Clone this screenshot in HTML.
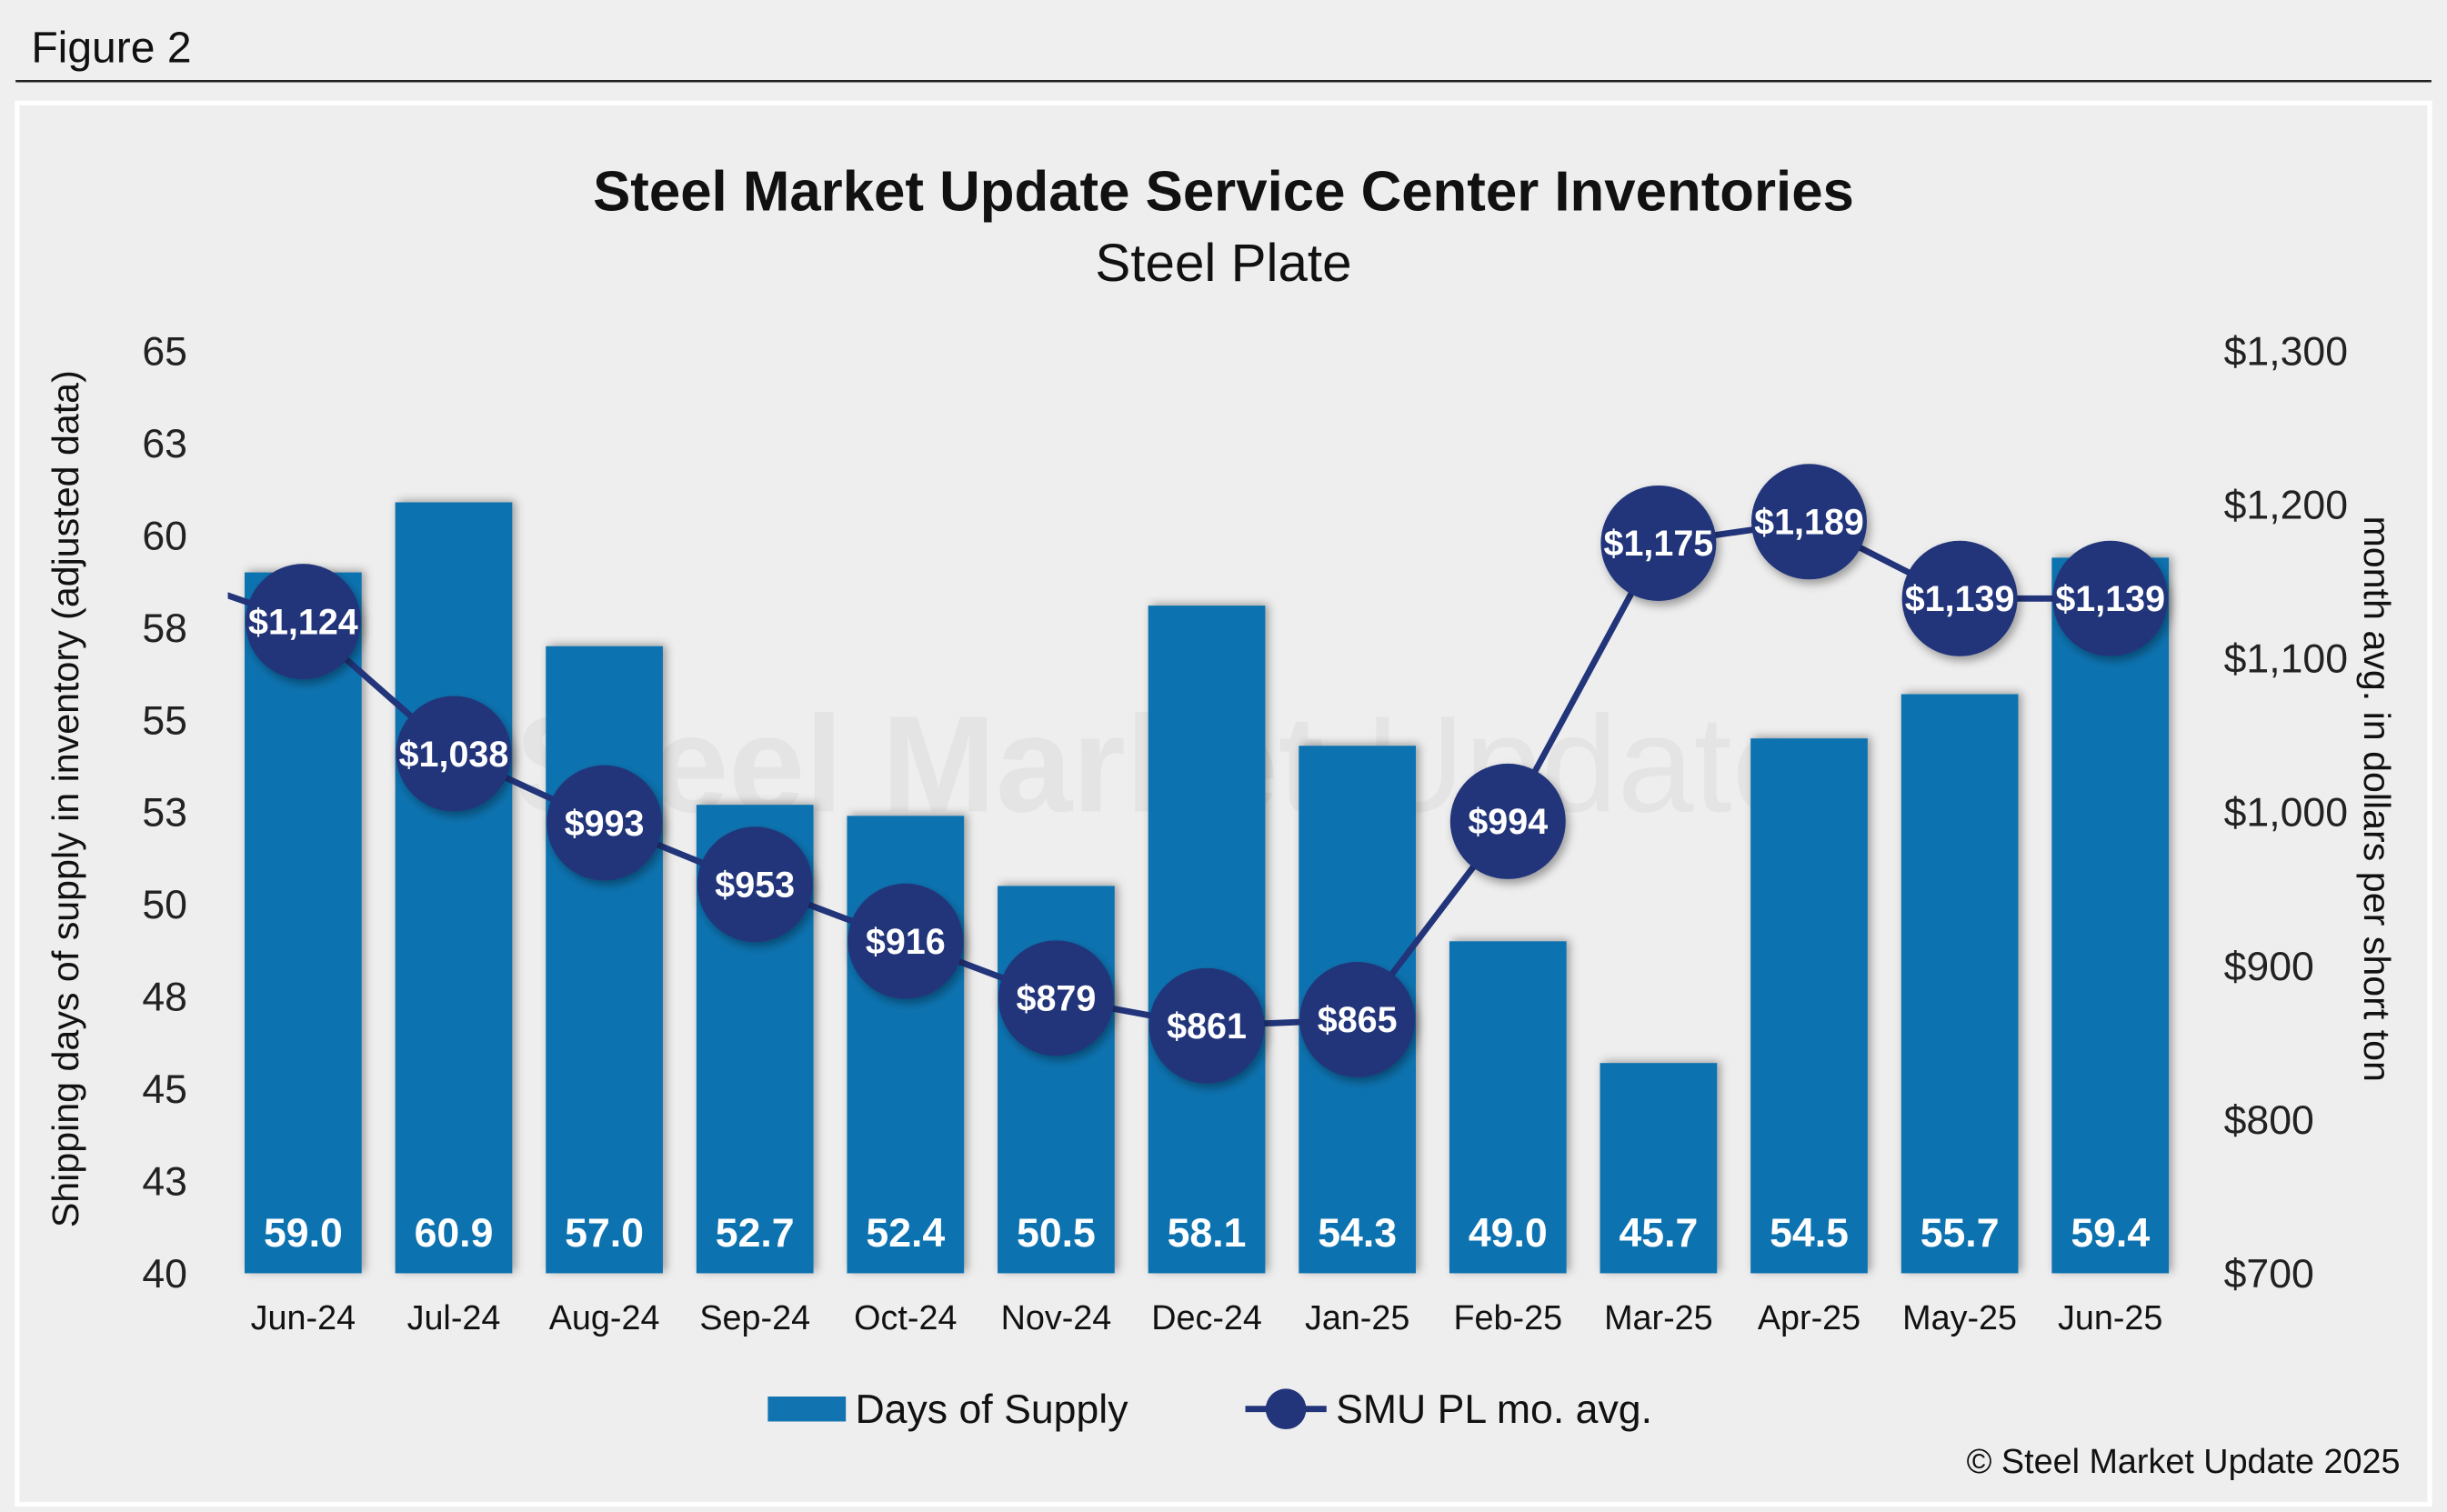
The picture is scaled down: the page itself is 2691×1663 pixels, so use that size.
<!DOCTYPE html>
<html><head><meta charset="utf-8"><style>
html,body{margin:0;padding:0;background:#fff}
svg{display:block;font-family:"Liberation Sans",Arial,sans-serif}
</style></head><body>
<svg id="chart" width="2691" height="1663" viewBox="0 0 1568 969" xmlns="http://www.w3.org/2000/svg">
<defs>
<filter id="sh" x="-20%" y="-20%" width="140%" height="140%"><feDropShadow dx="2" dy="-1" stdDeviation="3" flood-color="#000" flood-opacity="0.35"/></filter>
<filter id="csh" x="-30%" y="-30%" width="160%" height="160%"><feDropShadow dx="2" dy="3" stdDeviation="3" flood-color="#000" flood-opacity="0.35"/></filter>
<clipPath id="plotclip"><rect x="146" y="150" width="1280" height="700"/></clipPath>
</defs>
<rect x="0" y="0" width="1568" height="969" fill="#efefef"/>
<text x="20" y="40" font-size="28" fill="#111">Figure 2</text>
<line x1="10" y1="52" x2="1558" y2="52" stroke="#222" stroke-width="1.5"/>
<rect x="11" y="66" width="1546" height="898" fill="#eeeeee" stroke="#fff" stroke-width="3"/>
<text x="784" y="135" font-size="36" font-weight="bold" text-anchor="middle" fill="#111">Steel Market Update Service Center Inventories</text>
<text x="784" y="180" font-size="34" text-anchor="middle" fill="#111">Steel Plate</text>
<g opacity="0.55">
<text x="330" y="520" font-size="88" font-weight="bold" fill="#dcdcdc">Steel Market</text>
<text x="875" y="520" font-size="88" fill="#dcdcdc">Update</text>
</g>
<g id="leftAxis"></g><g id="rightAxis"></g><g id="xAxis"></g>
<g id="bars"></g><g id="line"></g>
<text transform="translate(50,512) rotate(-90)" font-size="24" text-anchor="middle" fill="#111">Shipping days of supply in inventory (adjusted data)</text>
<text transform="translate(1515,512) rotate(90)" font-size="24" text-anchor="middle" fill="#111">month avg. in dollars per short ton</text>
<g>
<g>
<rect x="492" y="895" width="50" height="16" fill="#1173b0"/>
<text x="548" y="912" font-size="26" fill="#111">Days of Supply</text></g>
<g>
<line x1="798" y1="903" x2="850" y2="903" stroke="#22347a" stroke-width="4"/>
<circle cx="824" cy="903" r="13" fill="#22347a"/>
<text x="856" y="912" font-size="26" fill="#111">SMU PL mo. avg.</text></g>
</g>
<text x="1538" y="944" font-size="22" text-anchor="end" fill="#111">© Steel Market Update 2025</text>
</svg>
<script>
const categories=["Jun-24","Jul-24","Aug-24","Sep-24","Oct-24","Nov-24","Dec-24","Jan-25","Feb-25","Mar-25","Apr-25","May-25","Jun-25"];
const daysOfSupply=[59.0,60.9,57.0,52.7,52.4,50.5,58.1,54.3,49.0,45.7,54.5,55.7,59.4];
const prices=[1124,1038,993,953,916,879,861,865,994,1175,1189,1139,1139];
const priorPrice=1158;
const leftTicks=[40,42.5,45,47.5,50,52.5,55,57.5,60,62.5,65];
const leftTickLabels=["40","43","45","48","50","53","55","58","60","63","65"];
const rightTicks=[700,800,900,1000,1100,1200,1300];
const rightTickLabels=["$700","$800","$900","$1,000","$1,100","$1,200","$1,300"];
const NS="http://www.w3.org/2000/svg";
const X0=146,STEP=96.5,YB=816,YT=225;
const xc=i=>X0+STEP*(i+0.5);
const yL=v=>YB-(v-40)/25*(YB-YT);
const yR=v=>YB-(v-700)/600*(YB-YT);
function mk(tag,attrs,parent,txt){const e=document.createElementNS(NS,tag);for(const k in attrs)e.setAttribute(k,attrs[k]);if(txt!==undefined)e.textContent=txt;parent.appendChild(e);return e;}
const la=document.getElementById('leftAxis');
leftTicks.forEach((t,i)=>{const e=mk('text',{x:120,y:yL(t)+9,'font-size':26,'text-anchor':'end',fill:'#222'},la,leftTickLabels[i]);

});
const ra=document.getElementById('rightAxis');
rightTicks.forEach((t,i)=>{const e=mk('text',{x:1425,y:yR(t)+9,'font-size':26,fill:'#222'},ra,rightTickLabels[i]);

});
const xa=document.getElementById('xAxis');
categories.forEach((c,i)=>{const e=mk('text',{x:xc(i),y:852,'font-size':22,'text-anchor':'middle',fill:'#111'},xa,c);

});
const bg=document.getElementById('bars');
daysOfSupply.forEach((v,i)=>{const g=mk('g',{},bg);


mk('rect',{x:xc(i)-37.5,y:yL(v),width:75,height:YB-yL(v),fill:'#1173b0',filter:'url(#sh)'},g);
mk('text',{x:xc(i),y:799,'font-size':26,'font-weight':'bold','text-anchor':'middle',fill:'#fff'},g,v.toFixed(1));});
const lg=document.getElementById('line');
let pts=[[xc(-1),yR(priorPrice)]].concat(prices.map((p,i)=>[xc(i),yR(p)]));
const pl=mk('polyline',{points:pts.map(p=>p.join(',')).join(' '),fill:'none',stroke:'#22347a','stroke-width':4,'clip-path':'url(#plotclip)'},lg);


prices.forEach((p,i)=>{const g=mk('g',{},lg);


mk('circle',{cx:xc(i),cy:yR(p),r:37,fill:'#22347a',filter:'url(#csh)'},g);
mk('text',{x:xc(i),y:yR(p)+8,'font-size':23,'font-weight':'bold','text-anchor':'middle',fill:'#fff'},g,'$'+p.toLocaleString('en-US'));});
</script>
</body></html>
